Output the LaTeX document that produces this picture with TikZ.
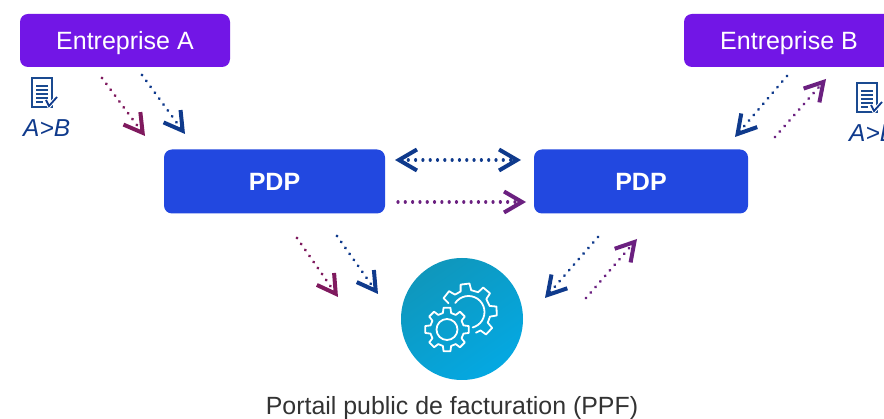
\documentclass[tikz,border=0pt]{standalone}
\usepackage{fontspec}
\setmainfont{Liberation Sans}
\usetikzlibrary{arrows.meta}
\definecolor{entbox}{HTML}{7216E6}
\definecolor{pdpbox}{HTML}{2248E0}
\definecolor{magflow}{HTML}{7F1A5E}
\definecolor{purflow}{HTML}{6B2080}
\definecolor{blueflow}{HTML}{0F3A8C}
\definecolor{docblue}{HTML}{1A4A90}
\definecolor{txtgrey}{HTML}{333333}
\definecolor{ppftop}{HTML}{0F97BC}
\definecolor{ppfbot}{HTML}{04A8E2}
\newcommand{\gearteeth}[3]{% start list, inner r, outer r
  \foreach \a in {#1} { -- (\a-14:#2) -- (\a-9:#3) -- (\a+9:#3) -- (\a+14:#2) }}
\tikzset{
  x=1pt,y=-1pt,
  entnode/.style={draw=none,fill=entbox,rounded corners=8pt,minimum width=210pt,minimum height=53pt,inner sep=0pt,text=white,text height=18pt,text depth=0pt,font=\fontsize{25}{27}\selectfont},
  pdpnode/.style={draw=none,fill=pdpbox,rounded corners=8pt,minimum height=64pt,inner sep=0pt,text=white,font=\fontsize{25}{27}\selectfont\bfseries},
  flow/.style={line width=3.2pt,line cap=round,dash pattern=on 0.01pt off 7.3pt},
  fwd/.style={flow,-{Straight Barb[length=18pt,width=21pt,line width=4pt]}},
  both/.style={flow,{Straight Barb[length=18pt,width=21pt,line width=4pt]}-{Straight Barb[length=18pt,width=21pt,line width=4pt]}},
  gearline/.style={draw=white,line width=1.8pt,line join=round,line cap=round},
  docline/.style={draw=docblue,line width=1.3pt},
  ablabel/.style={inner sep=0pt,text=blueflow,font=\fontsize{24.5}{26}\selectfont\itshape}
}
\begin{document}
\begin{tikzpicture}
\clip (0,0) rectangle (884,419);
\fill[white] (0,0) rectangle (884,419);
% boxes
\node[entnode] (entA) at (125,40.5) {Entreprise A};
\node[entnode] (entB) at (789,40.5) {Entreprise B};
\node[pdpnode,minimum width=221pt] (pdpA) at (274.5,181.5) {PDP};
\node[pdpnode,minimum width=214pt] (pdpB) at (641,181.5) {PDP};
% PPF circle
\node[circle,minimum size=122pt,inner sep=0pt,top color=ppftop,bottom color=ppfbot,shading angle=35] (ppf) at (462,319) {};
\node[inner sep=0pt,text=txtgrey,font=\fontsize{24.9}{27}\selectfont] (ppflabel) at (452,408.5) {Portail public de facturation (PPF)};
% gears
\begin{scope}[shift={(468.5,312)}]
  \draw[gearline] (203:22)\gearteeth{218,263,310,358,403}{22}{28.5} -- (430:22);
  \draw[gearline] (214:16) arc[start angle=214,end angle=435,radius=16];
\end{scope}
\begin{scope}[shift={(447,329.5)}]
  \draw[gearline] (-14:17)\gearteeth{0,45,90,135,180,225,270,315}{17}{22} -- cycle;
  \draw[gearline] (0,0) circle[radius=10.5];
\end{scope}
% flows
\coordinate (a1s) at (102,78); \coordinate (a1e) at (145,136);
\coordinate (a2s) at (142,75); \coordinate (a2e) at (185,134);
\coordinate (b1s) at (787,76); \coordinate (b1e) at (735,137);
\coordinate (b2s) at (775,137); \coordinate (b2e) at (826,79);
\coordinate (m1s) at (395,160); \coordinate (m1e) at (521,160);
\coordinate (m2s) at (398,202); \coordinate (m2e) at (526,202);
\coordinate (c1s) at (297,238); \coordinate (c1e) at (338,297);
\coordinate (c2s) at (337,236); \coordinate (c2e) at (378,294);
\coordinate (d1s) at (598,237); \coordinate (d1e) at (545,298);
\coordinate (d2s) at (586,298); \coordinate (d2e) at (637,239);
\draw[fwd,draw=magflow] (a1s) -- (a1e);
\draw[fwd,draw=blueflow] (a2s) -- (a2e);
\draw[fwd,draw=blueflow] (b1s) -- (b1e);
\draw[fwd,draw=purflow] (b2s) -- (b2e);
\draw[both,draw=blueflow] (m1s) -- (m1e);
\draw[fwd,draw=purflow] (m2s) -- (m2e);
\draw[fwd,draw=magflow] (c1s) -- (c1e);
\draw[fwd,draw=blueflow] (c2s) -- (c2e);
\draw[fwd,draw=blueflow] (d1s) -- (d1e);
\draw[fwd,draw=purflow] (d2s) -- (d2e);
% document icons
\foreach \ox/\oy/\nm in {32/78/A,857/83/B}{
  \begin{scope}[shift={(\ox,\oy)}]
    \draw[docline,line width=1.4pt,fill=white] (0,0) rectangle (20,29);
    \foreach \yy in {8,12,16,20}{\draw[docline] (4,\yy) -- (16,\yy);}
    \draw[docline] (4,24) -- (11,24);
    \draw[draw=white,line width=4pt] (14,22) -- (17,28) -- (25,19);
    \draw[draw=blueflow,line width=1.8pt,fill=none] (14,22) -- (17,28) -- (25,19);
  \end{scope}
}
\node[ablabel,anchor=base west] (labA) at (23,137) {A>B};
\node[ablabel,anchor=base west] (labB) at (849,142) {A>B};
\end{tikzpicture}
\end{document}
